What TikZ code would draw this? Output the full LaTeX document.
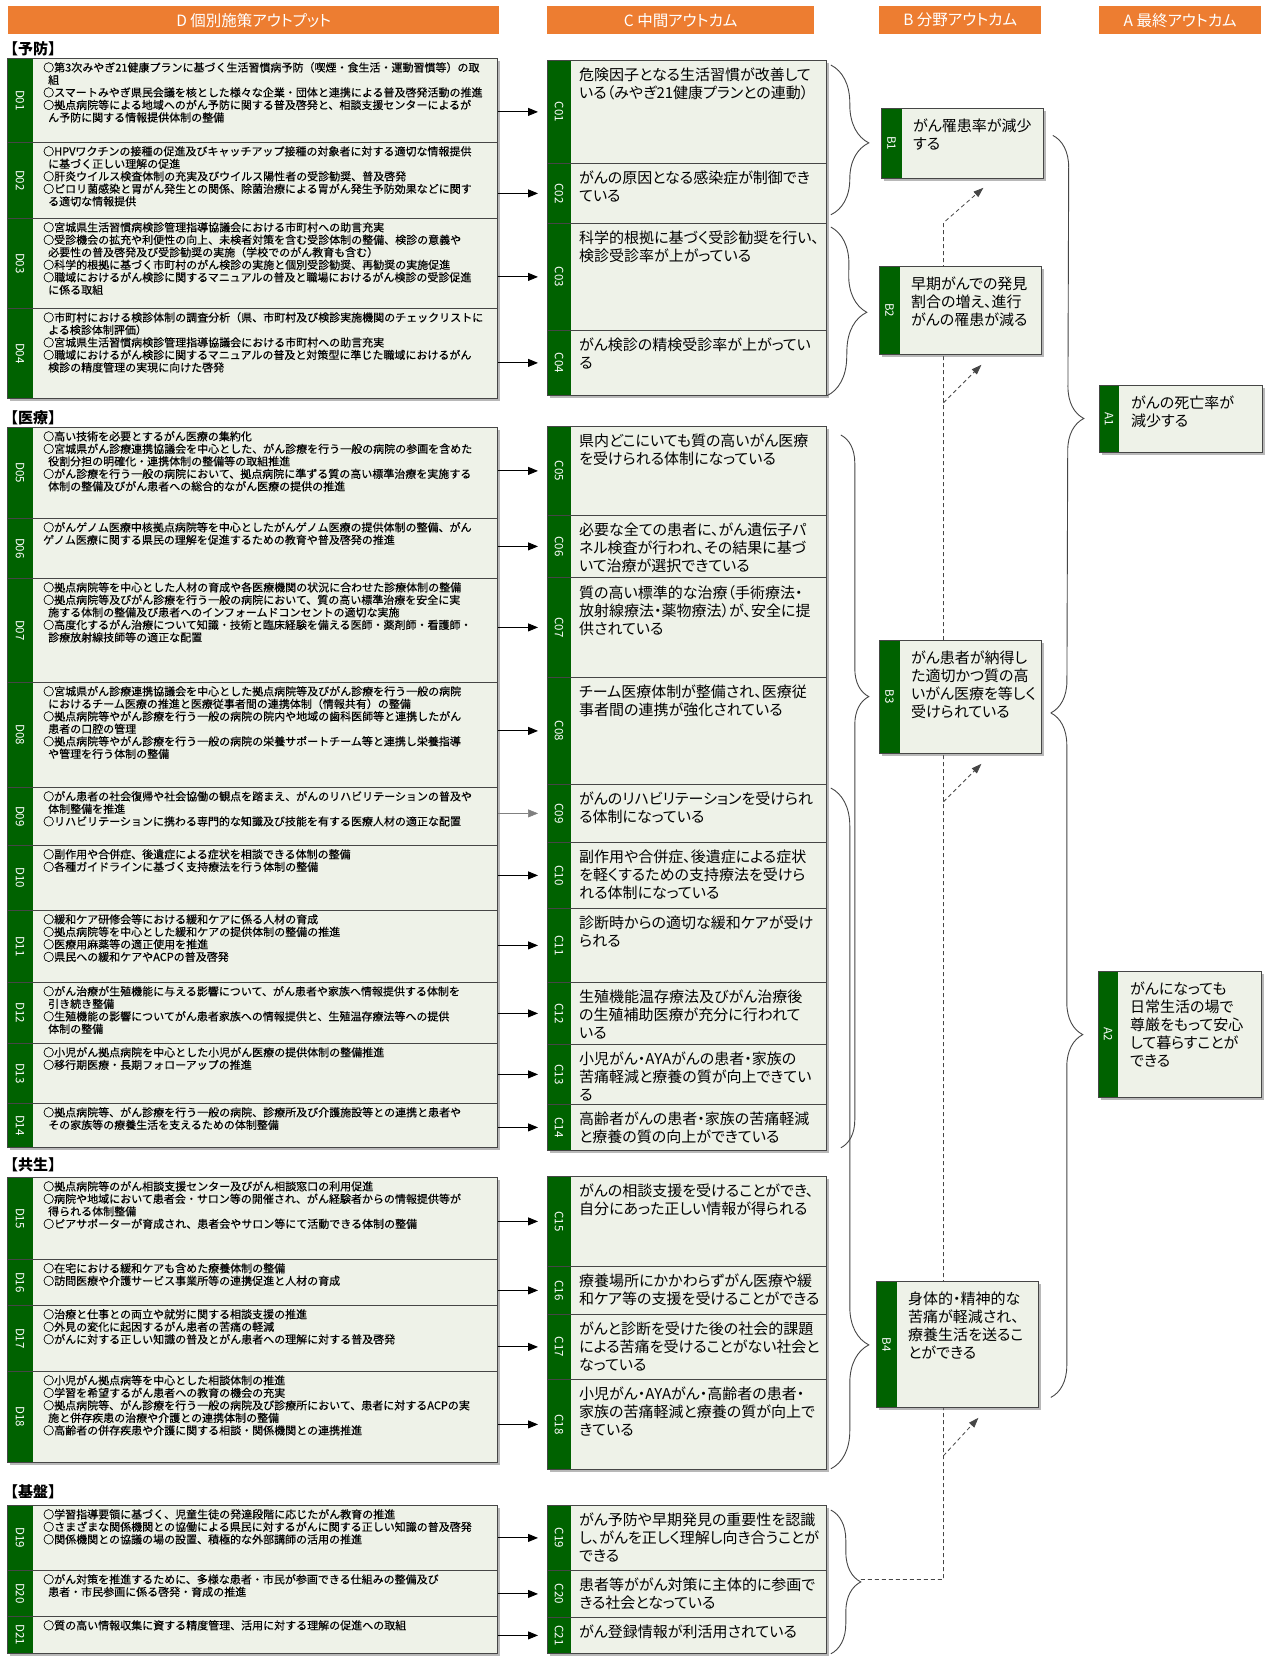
\documentclass[tikz,border=0pt]{standalone}
\usepackage{fontspec}
\setmainfont{Noto Sans CJK JP}
\newfontfamily\jpp[RawFeature=+palt]{Noto Sans CJK JP}
\newfontfamily\jpd[FakeBold=0.35]{Noto Sans CJK JP}
\usepackage{tikz}
\usetikzlibrary{arrows.meta, decorations.pathreplacing, calc, shadows, backgrounds}
\definecolor{hdorange}{RGB}{237,125,49}
\definecolor{stripgreen}{RGB}{0,98,0}
\definecolor{boxfill}{RGB}{238,242,232}
\definecolor{boxline}{RGB}{70,70,70}
\newcommand{\cont}{\hspace*{5pt}}

\begin{document}
\begin{tikzpicture}[x=1pt,y=-1pt,
  outbox/.style={draw=boxline, line width=0.8pt, fill=boxfill, anchor=north west, inner sep=0pt,
    drop shadow={shadow xshift=3pt,shadow yshift=-3pt,fill=black!55,opacity=0.5},
    path picture={\fill[stripgreen] (path picture bounding box.north west) rectangle ([xshift=#1]path picture bounding box.south west);}},
  dbox/.style={outbox=26pt, minimum width=490pt},
  cbox/.style={outbox=24pt, minimum width=279pt},
  bbox/.style={outbox=21pt, minimum width=162pt},
  abox/.style={outbox=20pt, minimum width=163pt},
  idlab/.style={rotate=-90, text=white, inner sep=0pt, font=\fontsize{11.5pt}{11.5pt}\selectfont},
  dtxt/.style={anchor=north west, align=left, inner sep=0pt, xshift=36pt, yshift=-4pt, font=\jpd\fontsize{11pt}{12.5pt}\selectfont},
  ctxt/.style={anchor=north west, align=left, inner sep=0pt, xshift=32pt, yshift=-8pt, font=\jpp\fontsize{15pt}{18pt}\selectfont},
  btxt/.style={ctxt, yshift=-3pt},
  head/.style={fill=hdorange, text=white, anchor=north west, minimum height=28pt, inner sep=0pt, font=\jpp\fontsize{15.5pt}{15.5pt}\selectfont},
  sect/.style={anchor=west, inner sep=0pt, font=\bfseries\fontsize{15pt}{15pt}\selectfont},
  arr/.style={-{Triangle[length=10pt,width=8pt]}, line width=0.9pt, shorten >=9pt},
  brc/.style={decorate, draw=boxline, line width=0.9pt},
  dlink/.style={draw=boxline, line width=0.8pt, dash pattern=on 4pt off 3pt, -{Triangle[length=10pt,width=7pt]}}]
  \useasboundingbox (0,0) rectangle (1266,1657);

  % column headers
  \node[head, minimum width=491pt] (hd) at (8,6) {D 個別施策アウトプット};
  \node[head, minimum width=267pt] (hc) at (547,6) {C 中間アウトカム};
  \node[head, minimum width=162pt] (hb) at (879,6) {B 分野アウトカム};
  \node[head, minimum width=162pt] (ha) at (1099,6) {A 最終アウトカム};

  % section labels
  \node[sect] (yobo) at (3,49) {【予防】};
  \node[sect] (iryo) at (3,418) {【医療】};
  \node[sect] (kyosei) at (3,1165) {【共生】};
  \node[sect] (kiban) at (3,1492) {【基盤】};

  % D: 予防
  \node[dbox, minimum height=84pt] (d01) at (7,58) {};
  \node[idlab] (d01n) at ([xshift=13pt]d01.west) {D01};
  \node[dtxt] (d01t) at (d01.north west) {○第3次みやぎ21健康プランに基づく生活習慣病予防（喫煙・食生活・運動習慣等）の取\\\cont 組\\○スマートみやぎ県民会議を核とした様々な企業・団体と連携による普及啓発活動の推進\\○拠点病院等による地域へのがん予防に関する普及啓発と、相談支援センターによるが\\\cont ん予防に関する情報提供体制の整備};
  \node[dbox, minimum height=76pt] (d02) at (7,142) {};
  \node[idlab] (d02n) at ([xshift=13pt]d02.west) {D02};
  \node[dtxt] (d02t) at (d02.north west) {○HPVワクチンの接種の促進及びキャッチアップ接種の対象者に対する適切な情報提供\\\cont に基づく正しい理解の促進\\○肝炎ウイルス検査体制の充実及びウイルス陽性者の受診勧奨、普及啓発\\○ピロリ菌感染と胃がん発生との関係、除菌治療による胃がん発生予防効果などに関す\\\cont る適切な情報提供};
  \node[dbox, minimum height=90pt] (d03) at (7,218) {};
  \node[idlab] (d03n) at ([xshift=13pt]d03.west) {D03};
  \node[dtxt] (d03t) at (d03.north west) {○宮城県生活習慣病検診管理指導協議会における市町村への助言充実\\○受診機会の拡充や利便性の向上、未検者対策を含む受診体制の整備、検診の意義や\\\cont 必要性の普及啓発及び受診勧奨の実施（学校でのがん教育も含む）\\○科学的根拠に基づく市町村のがん検診の実施と個別受診勧奨、再勧奨の実施促進\\○職域におけるがん検診に関するマニュアルの普及と職場におけるがん検診の受診促進\\\cont に係る取組};
  \node[dbox, minimum height=90pt] (d04) at (7,308) {};
  \node[idlab] (d04n) at ([xshift=13pt]d04.west) {D04};
  \node[dtxt] (d04t) at (d04.north west) {○市町村における検診体制の調査分析（県、市町村及び検診実施機関のチェックリストに\\\cont よる検診体制評価）\\○宮城県生活習慣病検診管理指導協議会における市町村への助言充実\\○職域におけるがん検診に関するマニュアルの普及と対策型に準じた職域におけるがん\\\cont 検診の精度管理の実現に向けた啓発};

  % D: 医療
  \node[dbox, minimum height=91pt] (d05) at (7,427) {};
  \node[idlab] (d05n) at ([xshift=13pt]d05.west) {D05};
  \node[dtxt] (d05t) at (d05.north west) {○高い技術を必要とするがん医療の集約化\\○宮城県がん診療連携協議会を中心とした、がん診療を行う一般の病院の参画を含めた\\\cont 役割分担の明確化・連携体制の整備等の取組推進\\○がん診療を行う一般の病院において、拠点病院に準ずる質の高い標準治療を実施する\\\cont 体制の整備及びがん患者への総合的ながん医療の提供の推進};
  \node[dbox, minimum height=60pt] (d06) at (7,518) {};
  \node[idlab] (d06n) at ([xshift=13pt]d06.west) {D06};
  \node[dtxt] (d06t) at (d06.north west) {○がんゲノム医療中核拠点病院等を中心としたがんゲノム医療の提供体制の整備、がん\\ゲノム医療に関する県民の理解を促進するための教育や普及啓発の推進};
  \node[dbox, minimum height=104pt] (d07) at (7,578) {};
  \node[idlab] (d07n) at ([xshift=13pt]d07.west) {D07};
  \node[dtxt] (d07t) at (d07.north west) {○拠点病院等を中心とした人材の育成や各医療機関の状況に合わせた診療体制の整備\\○拠点病院等及びがん診療を行う一般の病院において、質の高い標準治療を安全に実\\\cont 施する体制の整備及び患者へのインフォームドコンセントの適切な実施\\○高度化するがん治療について知識・技術と臨床経験を備える医師・薬剤師・看護師・\\\cont 診療放射線技師等の適正な配置};
  \node[dbox, minimum height=105pt] (d08) at (7,682) {};
  \node[idlab] (d08n) at ([xshift=13pt]d08.west) {D08};
  \node[dtxt] (d08t) at (d08.north west) {○宮城県がん診療連携協議会を中心とした拠点病院等及びがん診療を行う一般の病院\\\cont におけるチーム医療の推進と医療従事者間の連携体制（情報共有）の整備\\○拠点病院等やがん診療を行う一般の病院の院内や地域の歯科医師等と連携したがん\\\cont 患者の口腔の管理\\○拠点病院等やがん診療を行う一般の病院の栄養サポートチーム等と連携し栄養指導\\\cont や管理を行う体制の整備};
  \node[dbox, minimum height=58pt] (d09) at (7,787) {};
  \node[idlab] (d09n) at ([xshift=13pt]d09.west) {D09};
  \node[dtxt] (d09t) at (d09.north west) {○がん患者の社会復帰や社会協働の観点を踏まえ、がんのリハビリテーションの普及や\\\cont 体制整備を推進\\○リハビリテーションに携わる専門的な知識及び技能を有する医療人材の適正な配置};
  \node[dbox, minimum height=65pt] (d10) at (7,845) {};
  \node[idlab] (d10n) at ([xshift=13pt]d10.west) {D10};
  \node[dtxt] (d10t) at (d10.north west) {○副作用や合併症、後遺症による症状を相談できる体制の整備\\○各種ガイドラインに基づく支持療法を行う体制の整備};
  \node[dbox, minimum height=72pt] (d11) at (7,910) {};
  \node[idlab] (d11n) at ([xshift=13pt]d11.west) {D11};
  \node[dtxt] (d11t) at (d11.north west) {○緩和ケア研修会等における緩和ケアに係る人材の育成\\○拠点病院等を中心とした緩和ケアの提供体制の整備の推進\\○医療用麻薬等の適正使用を推進\\○県民への緩和ケアやACPの普及啓発};
  \node[dbox, minimum height=61pt] (d12) at (7,982) {};
  \node[idlab] (d12n) at ([xshift=13pt]d12.west) {D12};
  \node[dtxt] (d12t) at (d12.north west) {○がん治療が生殖機能に与える影響について、がん患者や家族へ情報提供する体制を\\\cont 引き続き整備\\○生殖機能の影響についてがん患者家族への情報提供と、生殖温存療法等への提供\\\cont 体制の整備};
  \node[dbox, minimum height=60pt] (d13) at (7,1043) {};
  \node[idlab] (d13n) at ([xshift=13pt]d13.west) {D13};
  \node[dtxt] (d13t) at (d13.north west) {○小児がん拠点病院を中心とした小児がん医療の提供体制の整備推進\\○移行期医療・長期フォローアップの推進};
  \node[dbox, minimum height=44pt] (d14) at (7,1103) {};
  \node[idlab] (d14n) at ([xshift=13pt]d14.west) {D14};
  \node[dtxt] (d14t) at (d14.north west) {○拠点病院等、がん診療を行う一般の病院、診療所及び介護施設等との連携と患者や\\\cont その家族等の療養生活を支えるための体制整備};

  % D: 共生
  \node[dbox, minimum height=82pt] (d15) at (7,1177) {};
  \node[idlab] (d15n) at ([xshift=13pt]d15.west) {D15};
  \node[dtxt] (d15t) at (d15.north west) {○拠点病院等のがん相談支援センター及びがん相談窓口の利用促進\\○病院や地域において患者会・サロン等の開催され、がん経験者からの情報提供等が\\\cont 得られる体制整備\\○ピアサポーターが育成され、患者会やサロン等にて活動できる体制の整備};
  \node[dbox, minimum height=46pt] (d16) at (7,1259) {};
  \node[idlab] (d16n) at ([xshift=13pt]d16.west) {D16};
  \node[dtxt] (d16t) at (d16.north west) {○在宅における緩和ケアも含めた療養体制の整備\\○訪問医療や介護サービス事業所等の連携促進と人材の育成};
  \node[dbox, minimum height=66pt] (d17) at (7,1305) {};
  \node[idlab] (d17n) at ([xshift=13pt]d17.west) {D17};
  \node[dtxt] (d17t) at (d17.north west) {○治療と仕事との両立や就労に関する相談支援の推進\\○外見の変化に起因するがん患者の苦痛の軽減\\○がんに対する正しい知識の普及とがん患者への理解に対する普及啓発};
  \node[dbox, minimum height=91pt] (d18) at (7,1371) {};
  \node[idlab] (d18n) at ([xshift=13pt]d18.west) {D18};
  \node[dtxt] (d18t) at (d18.north west) {○小児がん拠点病等を中心とした相談体制の推進\\○学習を希望するがん患者への教育の機会の充実\\○拠点病院等、がん診療を行う一般の病院及び診療所において、患者に対するACPの実\\\cont 施と併存疾患の治療や介護との連携体制の整備\\○高齢者の併存疾患や介護に関する相談・関係機関との連携推進};

  % D: 基盤
  \node[dbox, minimum height=65pt] (d19) at (7,1505) {};
  \node[idlab] (d19n) at ([xshift=13pt]d19.west) {D19};
  \node[dtxt] (d19t) at (d19.north west) {○学習指導要領に基づく、児童生徒の発達段階に応じたがん教育の推進\\○さまざまな関係機関との協働による県民に対するがんに関する正しい知識の普及啓発\\○関係機関との協議の場の設置、積極的な外部講師の活用の推進};
  \node[dbox, minimum height=46pt] (d20) at (7,1570) {};
  \node[idlab] (d20n) at ([xshift=13pt]d20.west) {D20};
  \node[dtxt] (d20t) at (d20.north west) {○がん対策を推進するために、多様な患者・市民が参画できる仕組みの整備及び\\\cont 患者・市民参画に係る啓発・育成の推進};
  \node[dbox, minimum height=37pt] (d21) at (7,1616) {};
  \node[idlab] (d21n) at ([xshift=13pt]d21.west) {D21};
  \node[dtxt] (d21t) at (d21.north west) {○質の高い情報収集に資する精度管理、活用に対する理解の促進への取組};

  % C column
  \node[cbox, minimum height=103pt] (c01) at (547,60) {};
  \node[idlab] (c01n) at ([xshift=12pt]c01.west) {C01};
  \node[ctxt] (c01t) at (c01.north west) {危険因子となる生活習慣が改善して\\いる（みやぎ21健康プランとの連動）};
  \node[cbox, minimum height=60pt] (c02) at (547,163) {};
  \node[idlab] (c02n) at ([xshift=12pt]c02.west) {C02};
  \node[ctxt] (c02t) at (c02.north west) {がんの原因となる感染症が制御でき\\ている};
  \node[cbox, minimum height=107pt] (c03) at (547,223) {};
  \node[idlab] (c03n) at ([xshift=12pt]c03.west) {C03};
  \node[ctxt] (c03t) at (c03.north west) {科学的根拠に基づく受診勧奨を行い、\\検診受診率が上がっている};
  \node[cbox, minimum height=65pt] (c04) at (547,330) {};
  \node[idlab] (c04n) at ([xshift=12pt]c04.west) {C04};
  \node[ctxt] (c04t) at (c04.north west) {がん検診の精検受診率が上がってい\\る};
  \node[cbox, minimum height=89pt] (c05) at (547,426) {};
  \node[idlab] (c05n) at ([xshift=12pt]c05.west) {C05};
  \node[ctxt] (c05t) at (c05.north west) {県内どこにいても質の高いがん医療\\を受けられる体制になっている};
  \node[cbox, minimum height=62pt] (c06) at (547,515) {};
  \node[idlab] (c06n) at ([xshift=12pt]c06.west) {C06};
  \node[ctxt] (c06t) at (c06.north west) {必要な全ての患者に、がん遺伝子パ\\ネル検査が行われ、その結果に基づ\\いて治療が選択できている};
  \node[cbox, minimum height=100pt] (c07) at (547,577) {};
  \node[idlab] (c07n) at ([xshift=12pt]c07.west) {C07};
  \node[ctxt] (c07t) at (c07.north west) {質の高い標準的な治療（手術療法・\\放射線療法・薬物療法）が、安全に提\\供されている};
  \node[cbox, minimum height=107pt] (c08) at (547,677) {};
  \node[idlab] (c08n) at ([xshift=12pt]c08.west) {C08};
  \node[ctxt] (c08t) at (c08.north west) {チーム医療体制が整備され、医療従\\事者間の連携が強化されている};
  \node[cbox, minimum height=58pt] (c09) at (547,784) {};
  \node[idlab] (c09n) at ([xshift=12pt]c09.west) {C09};
  \node[ctxt] (c09t) at (c09.north west) {がんのリハビリテーションを受けられ\\る体制になっている};
  \node[cbox, minimum height=66pt] (c10) at (547,842) {};
  \node[idlab] (c10n) at ([xshift=12pt]c10.west) {C10};
  \node[ctxt] (c10t) at (c10.north west) {副作用や合併症、後遺症による症状\\を軽くするための支持療法を受けら\\れる体制になっている};
  \node[cbox, minimum height=74pt] (c11) at (547,908) {};
  \node[idlab] (c11n) at ([xshift=12pt]c11.west) {C11};
  \node[ctxt] (c11t) at (c11.north west) {診断時からの適切な緩和ケアが受け\\られる};
  \node[cbox, minimum height=62pt] (c12) at (547,982) {};
  \node[idlab] (c12n) at ([xshift=12pt]c12.west) {C12};
  \node[ctxt] (c12t) at (c12.north west) {生殖機能温存療法及びがん治療後\\の生殖補助医療が充分に行われて\\いる};
  \node[cbox, minimum height=60pt] (c13) at (547,1044) {};
  \node[idlab] (c13n) at ([xshift=12pt]c13.west) {C13};
  \node[ctxt] (c13t) at (c13.north west) {小児がん・AYAがんの患者・家族の\\苦痛軽減と療養の質が向上できてい\\る};
  \node[cbox, minimum height=46pt] (c14) at (547,1104) {};
  \node[idlab] (c14n) at ([xshift=12pt]c14.west) {C14};
  \node[ctxt] (c14t) at (c14.north west) {高齢者がんの患者・家族の苦痛軽減\\と療養の質の向上ができている};
  \node[cbox, minimum height=90pt] (c15) at (547,1176) {};
  \node[idlab] (c15n) at ([xshift=12pt]c15.west) {C15};
  \node[ctxt] (c15t) at (c15.north west) {がんの相談支援を受けることができ、\\自分にあった正しい情報が得られる};
  \node[cbox, minimum height=48pt] (c16) at (547,1266) {};
  \node[idlab] (c16n) at ([xshift=12pt]c16.west) {C16};
  \node[ctxt] (c16t) at (c16.north west) {療養場所にかかわらずがん医療や緩\\和ケア等の支援を受けることができる};
  \node[cbox, minimum height=65pt] (c17) at (547,1314) {};
  \node[idlab] (c17n) at ([xshift=12pt]c17.west) {C17};
  \node[ctxt] (c17t) at (c17.north west) {がんと診断を受けた後の社会的課題\\による苦痛を受けることがない社会と\\なっている};
  \node[cbox, minimum height=90pt] (c18) at (547,1379) {};
  \node[idlab] (c18n) at ([xshift=12pt]c18.west) {C18};
  \node[ctxt] (c18t) at (c18.north west) {小児がん・AYAがん・高齢者の患者・\\家族の苦痛軽減と療養の質が向上で\\きている};
  \node[cbox, minimum height=65pt] (c19) at (547,1505) {};
  \node[idlab] (c19n) at ([xshift=12pt]c19.west) {C19};
  \node[ctxt] (c19t) at (c19.north west) {がん予防や早期発見の重要性を認識\\し、がんを正しく理解し向き合うことが\\できる};
  \node[cbox, minimum height=47pt] (c20) at (547,1570) {};
  \node[idlab] (c20n) at ([xshift=12pt]c20.west) {C20};
  \node[ctxt] (c20t) at (c20.north west) {患者等ががん対策に主体的に参画で\\きる社会となっている};
  \node[cbox, minimum height=36pt] (c21) at (547,1617) {};
  \node[idlab] (c21n) at ([xshift=12pt]c21.west) {C21};
  \node[ctxt] (c21t) at (c21.north west) {がん登録情報が利活用されている};

  % B column
  \node[bbox, minimum height=70pt] (b1) at (881,108) {};
  \node[idlab] (b1n) at ([xshift=10.5pt]b1.west) {B1};
  \node[btxt] (b1t) at (b1.north west) {がん罹患率が減少\\する};
  \node[bbox, minimum height=88pt] (b2) at (879,266) {};
  \node[idlab] (b2n) at ([xshift=10.5pt]b2.west) {B2};
  \node[btxt] (b2t) at (b2.north west) {早期がんでの発見\\割合の増え、進行\\がんの罹患が減る};
  \node[bbox, minimum height=113pt] (b3) at (879,640) {};
  \node[idlab] (b3n) at ([xshift=10.5pt]b3.west) {B3};
  \node[btxt] (b3t) at (b3.north west) {がん患者が納得し\\た適切かつ質の高\\いがん医療を等しく\\受けられている};
  \node[bbox, minimum height=126pt] (b4) at (876,1281) {};
  \node[idlab] (b4n) at ([xshift=10.5pt]b4.west) {B4};
  \node[btxt] (b4t) at (b4.north west) {身体的・精神的な\\苦痛が軽減され、\\療養生活を送るこ\\とができる};

  % A column
  \node[abox, minimum height=67pt] (a1) at (1099,385) {};
  \node[idlab] (a1n) at ([xshift=10pt]a1.west) {A1};
  \node[btxt] (a1t) at (a1.north west) {がんの死亡率が\\減少する};
  \node[abox, minimum height=126pt] (a2) at (1098,971) {};
  \node[idlab] (a2n) at ([xshift=10pt]a2.west) {A2};
  \node[btxt] (a2t) at (a2.north west) {がんになっても\\日常生活の場で\\尊厳をもって安心\\して暮らすことが\\できる};

  % D -> C arrows
  \foreach \i in {01,02,03,04,05,06,07,08,10,11,12,13,14,15,16,17,18,19,20,21}
    \draw[arr] (d\i.east |- c\i.west) -- (c\i.west);
  \draw[arr, gray, line width=0.5pt] (d09.east |- c09.west) -- (c09.west);

  % braces C -> B
  \draw[brc, decoration={brace, amplitude=38pt, aspect=0.52}] ([xshift=4pt,yshift=-5pt]c01.north east) -- ([xshift=4pt,yshift=9pt]c02.south east);
  \draw[brc, decoration={brace, amplitude=38pt, aspect=0.5}] ([xshift=4pt,yshift=-4pt]c03.north east) -- (c04.south east);
  \draw[brc, decoration={brace, amplitude=28pt, aspect=0.367}] ([xshift=14pt,yshift=-9pt]c05.north east) -- ([xshift=14pt,yshift=3pt]c14.south east);
  \draw[brc, decoration={brace, amplitude=38pt, aspect=0.818}] ([xshift=4pt,yshift=-4pt]c09.north east) -- ([xshift=4pt,yshift=1pt]c18.south east);
  \draw[brc, decoration={brace, amplitude=30pt, aspect=0.5}] ([xshift=4pt,yshift=-5pt]c19.north east) -- ([xshift=4pt]c21.south east);

  % braces B -> A
  \draw[brc, decoration={brace, amplitude=32pt, aspect=0.49}] ([xshift=9pt,yshift=8pt]b1.east) -- ([xshift=9pt,yshift=-16pt]b3.east);
  \draw[brc, decoration={brace, amplitude=32pt, aspect=0.47}] ([xshift=9pt,yshift=-16pt]b3.east) -- ([xshift=12pt,yshift=-53pt]b4.east);

  % dashed links from 基盤 to B
  \coordinate (kb) at ($(c19.north east)!0.5!(c21.south east)+(34,0)$);
  \coordinate (trunk) at ($(b1.south)+(-19,0)$);
  \begin{scope}[on background layer]
    \fill[white] (0,0) rectangle (1266,1657);
    \draw[dlink] (kb) -- (kb -| trunk) -- ($(trunk)+(0,44)$) -- ($(b1.south)+(21,9)$);
    \foreach \b in {b2,b3,b4}
      \draw[dlink] ($(trunk |- \b.south)+(0,48)$) -- ($(\b.south)+(21,10)$);
  \end{scope}
\end{tikzpicture}
\end{document}
